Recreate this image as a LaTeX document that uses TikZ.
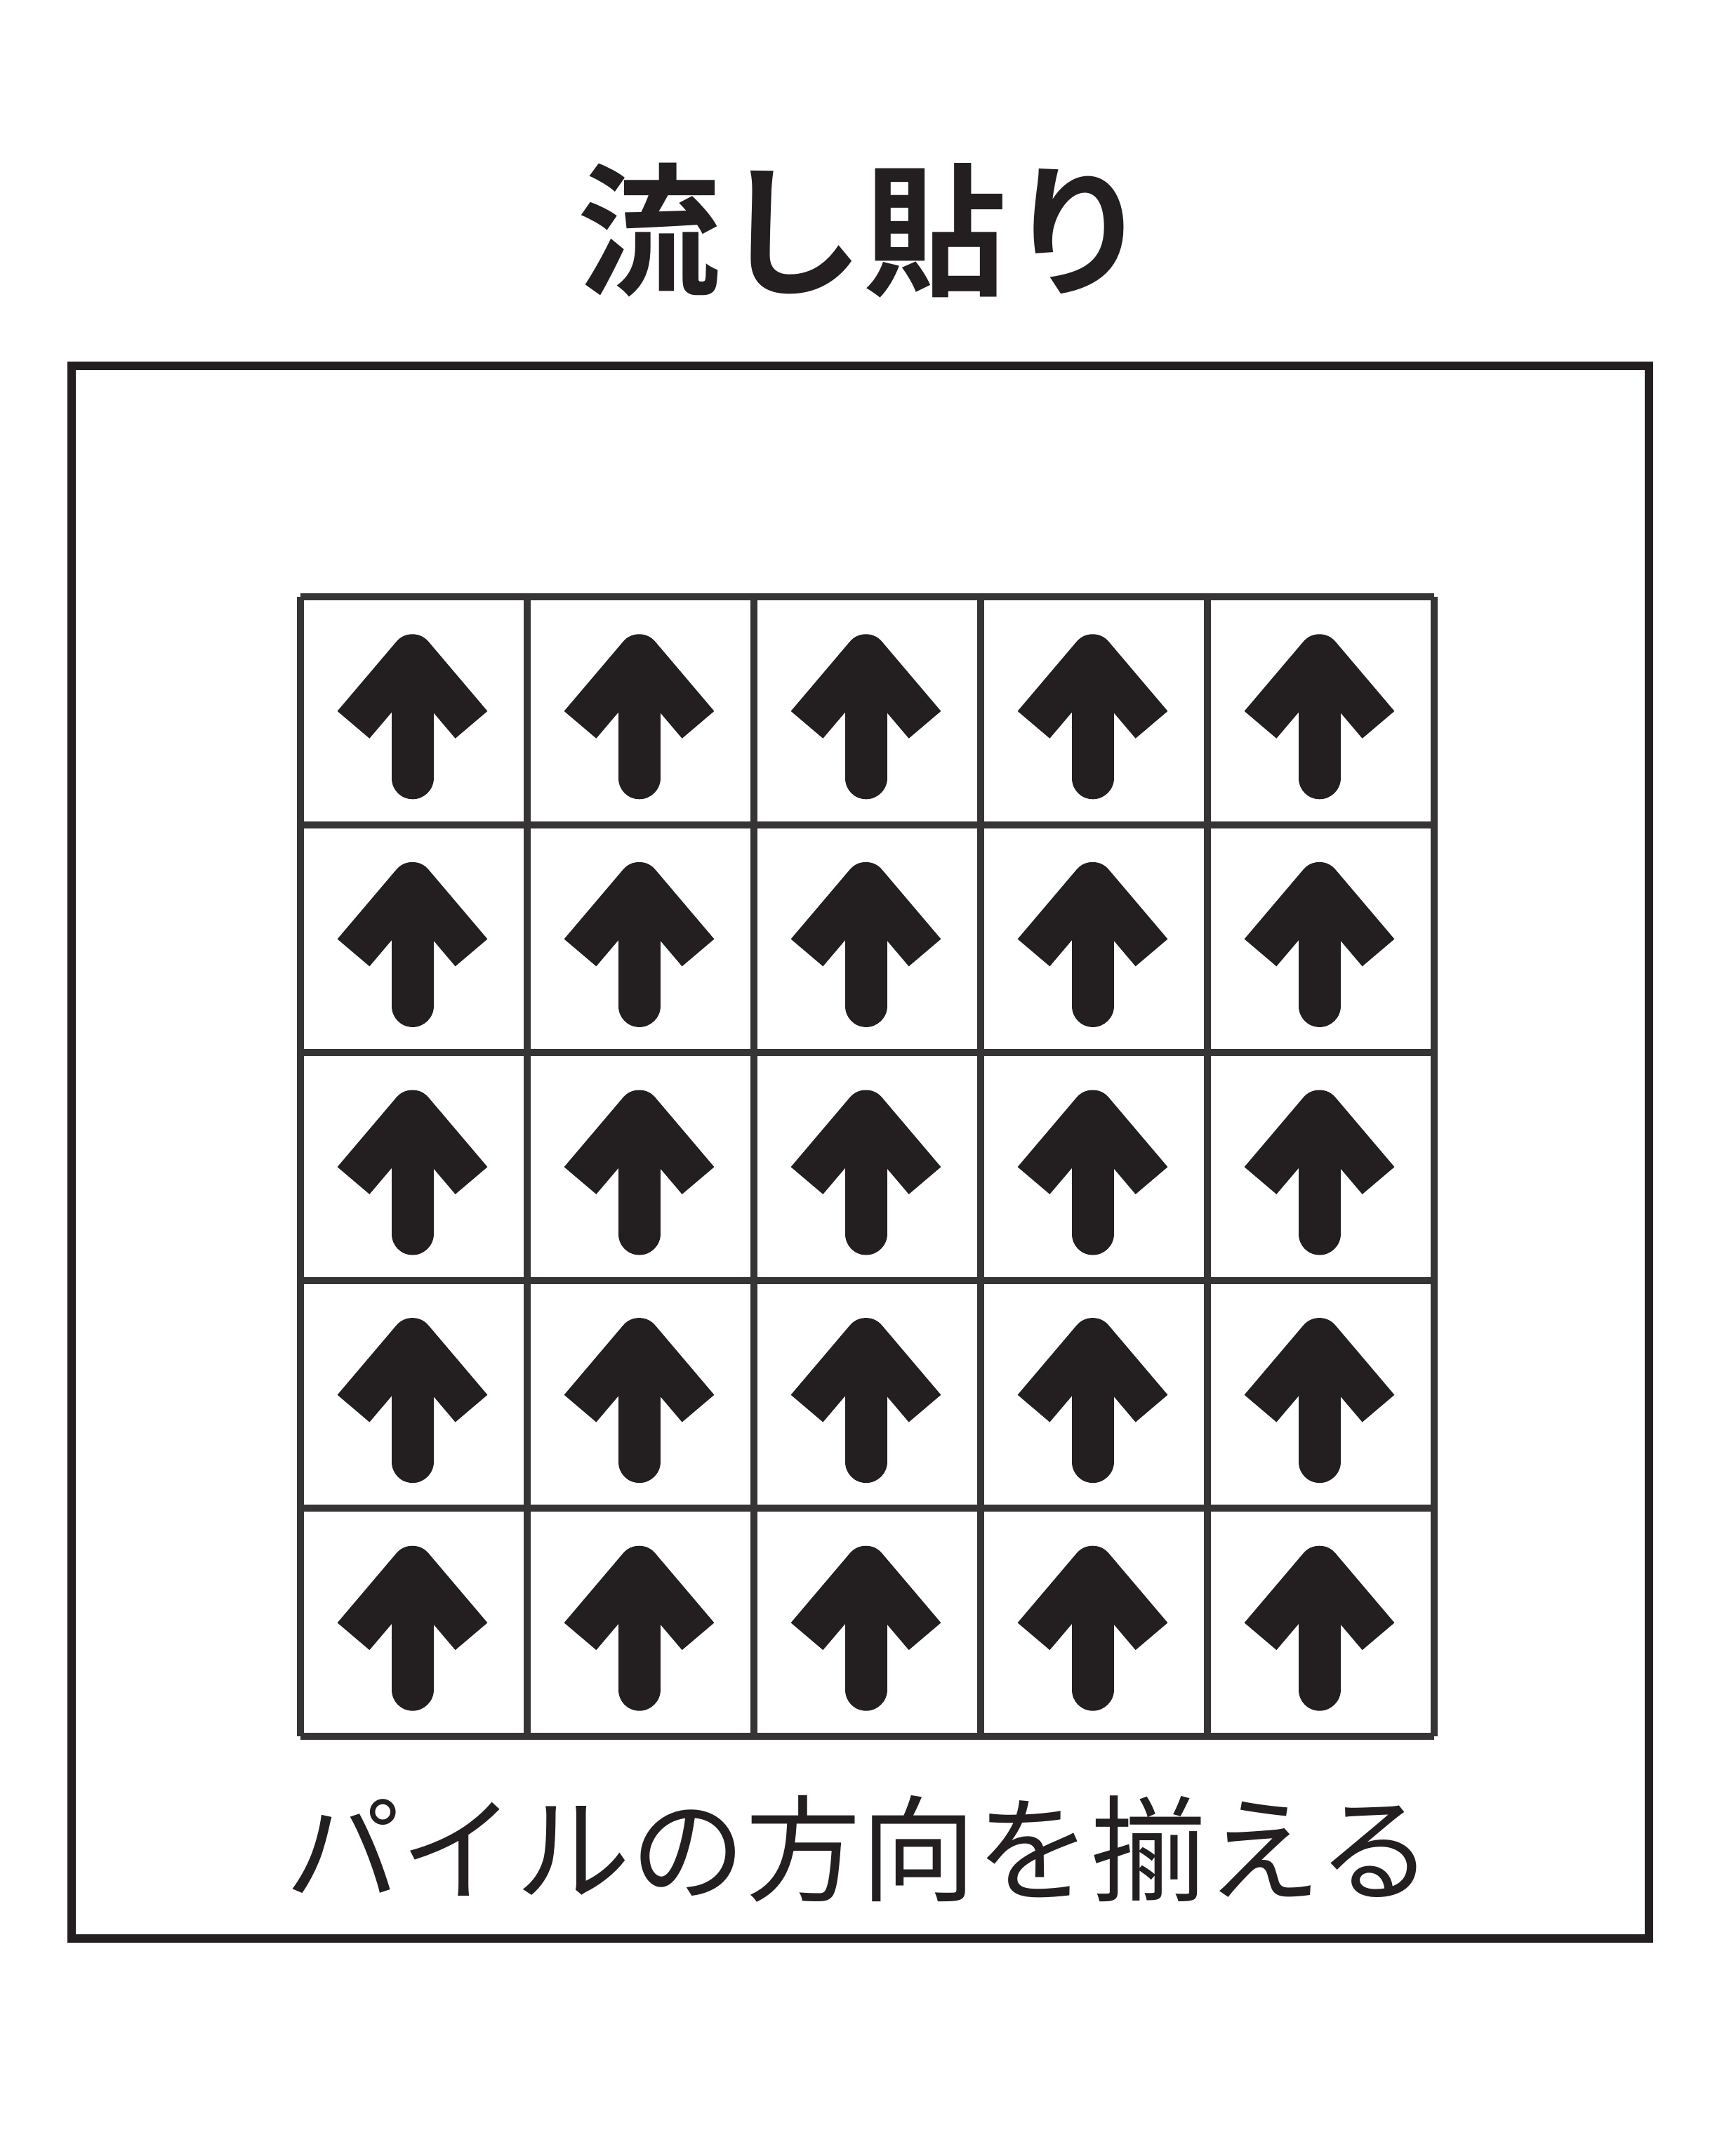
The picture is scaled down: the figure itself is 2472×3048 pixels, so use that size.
\documentclass[tikz,border=0pt]{standalone}
\usepackage{fontspec}
\newfontfamily\jpfont{Noto Sans CJK JP}[BoldFont={Noto Sans CJK JP Bold}]
\definecolor{inkdark}{HTML}{231F20}
\definecolor{gridc}{HTML}{363435}
\tikzset{
  frame/.style={draw=inkdark, line width=3pt},
  gridline/.style={draw=gridc, line width=2.5pt},
  shaftstroke/.style={draw=inkdark, line width=15pt, line cap=round},
  headstroke/.style={draw=inkdark, line width=15pt, line cap=butt, line join=round},
  titletext/.style={inner sep=0pt, text=inkdark, font=\jpfont\bfseries\fontsize{51pt}{51pt}\selectfont},
  captiontext/.style={inner sep=0pt, text=inkdark, font=\jpfont\fontsize{41pt}{41pt}\selectfont}
}
\begin{document}
\begin{tikzpicture}[x=0.25pt,y=-0.25pt]
\useasboundingbox (0,0) rectangle (2472,3048);
\fill[white] (0,0) rectangle (2472,3048);
% outer frame
\draw[frame] (102,521) rectangle (2349,2761);
% title
\node[titletext] (title) at (1230,328) {流し貼り};
% grid
\foreach \i in {0,...,5} {
  \draw[gridline] (428+\i*323,850) -- (428+\i*323,2473);
  \draw[gridline] (428,850+\i*324.6) -- (2043,850+\i*324.6);
}
% arrows
\foreach \i in {0,...,4} {
  \foreach \j in {0,...,4} {
    \coordinate (c\i\j) at (587.5+\i*323, 1012.3+\j*324.6);
    \begin{scope}[shift={(c\i\j)}]
      \draw[shaftstroke] (0,96) -- (0,-70);
      \draw[headstroke] (-84,20) -- (0,-79) -- (84,20);
    \end{scope}
  }
}
% caption
\node[captiontext] (caption) at (1224,2633) {パイルの方向を揃える};
\end{tikzpicture}
\end{document}
